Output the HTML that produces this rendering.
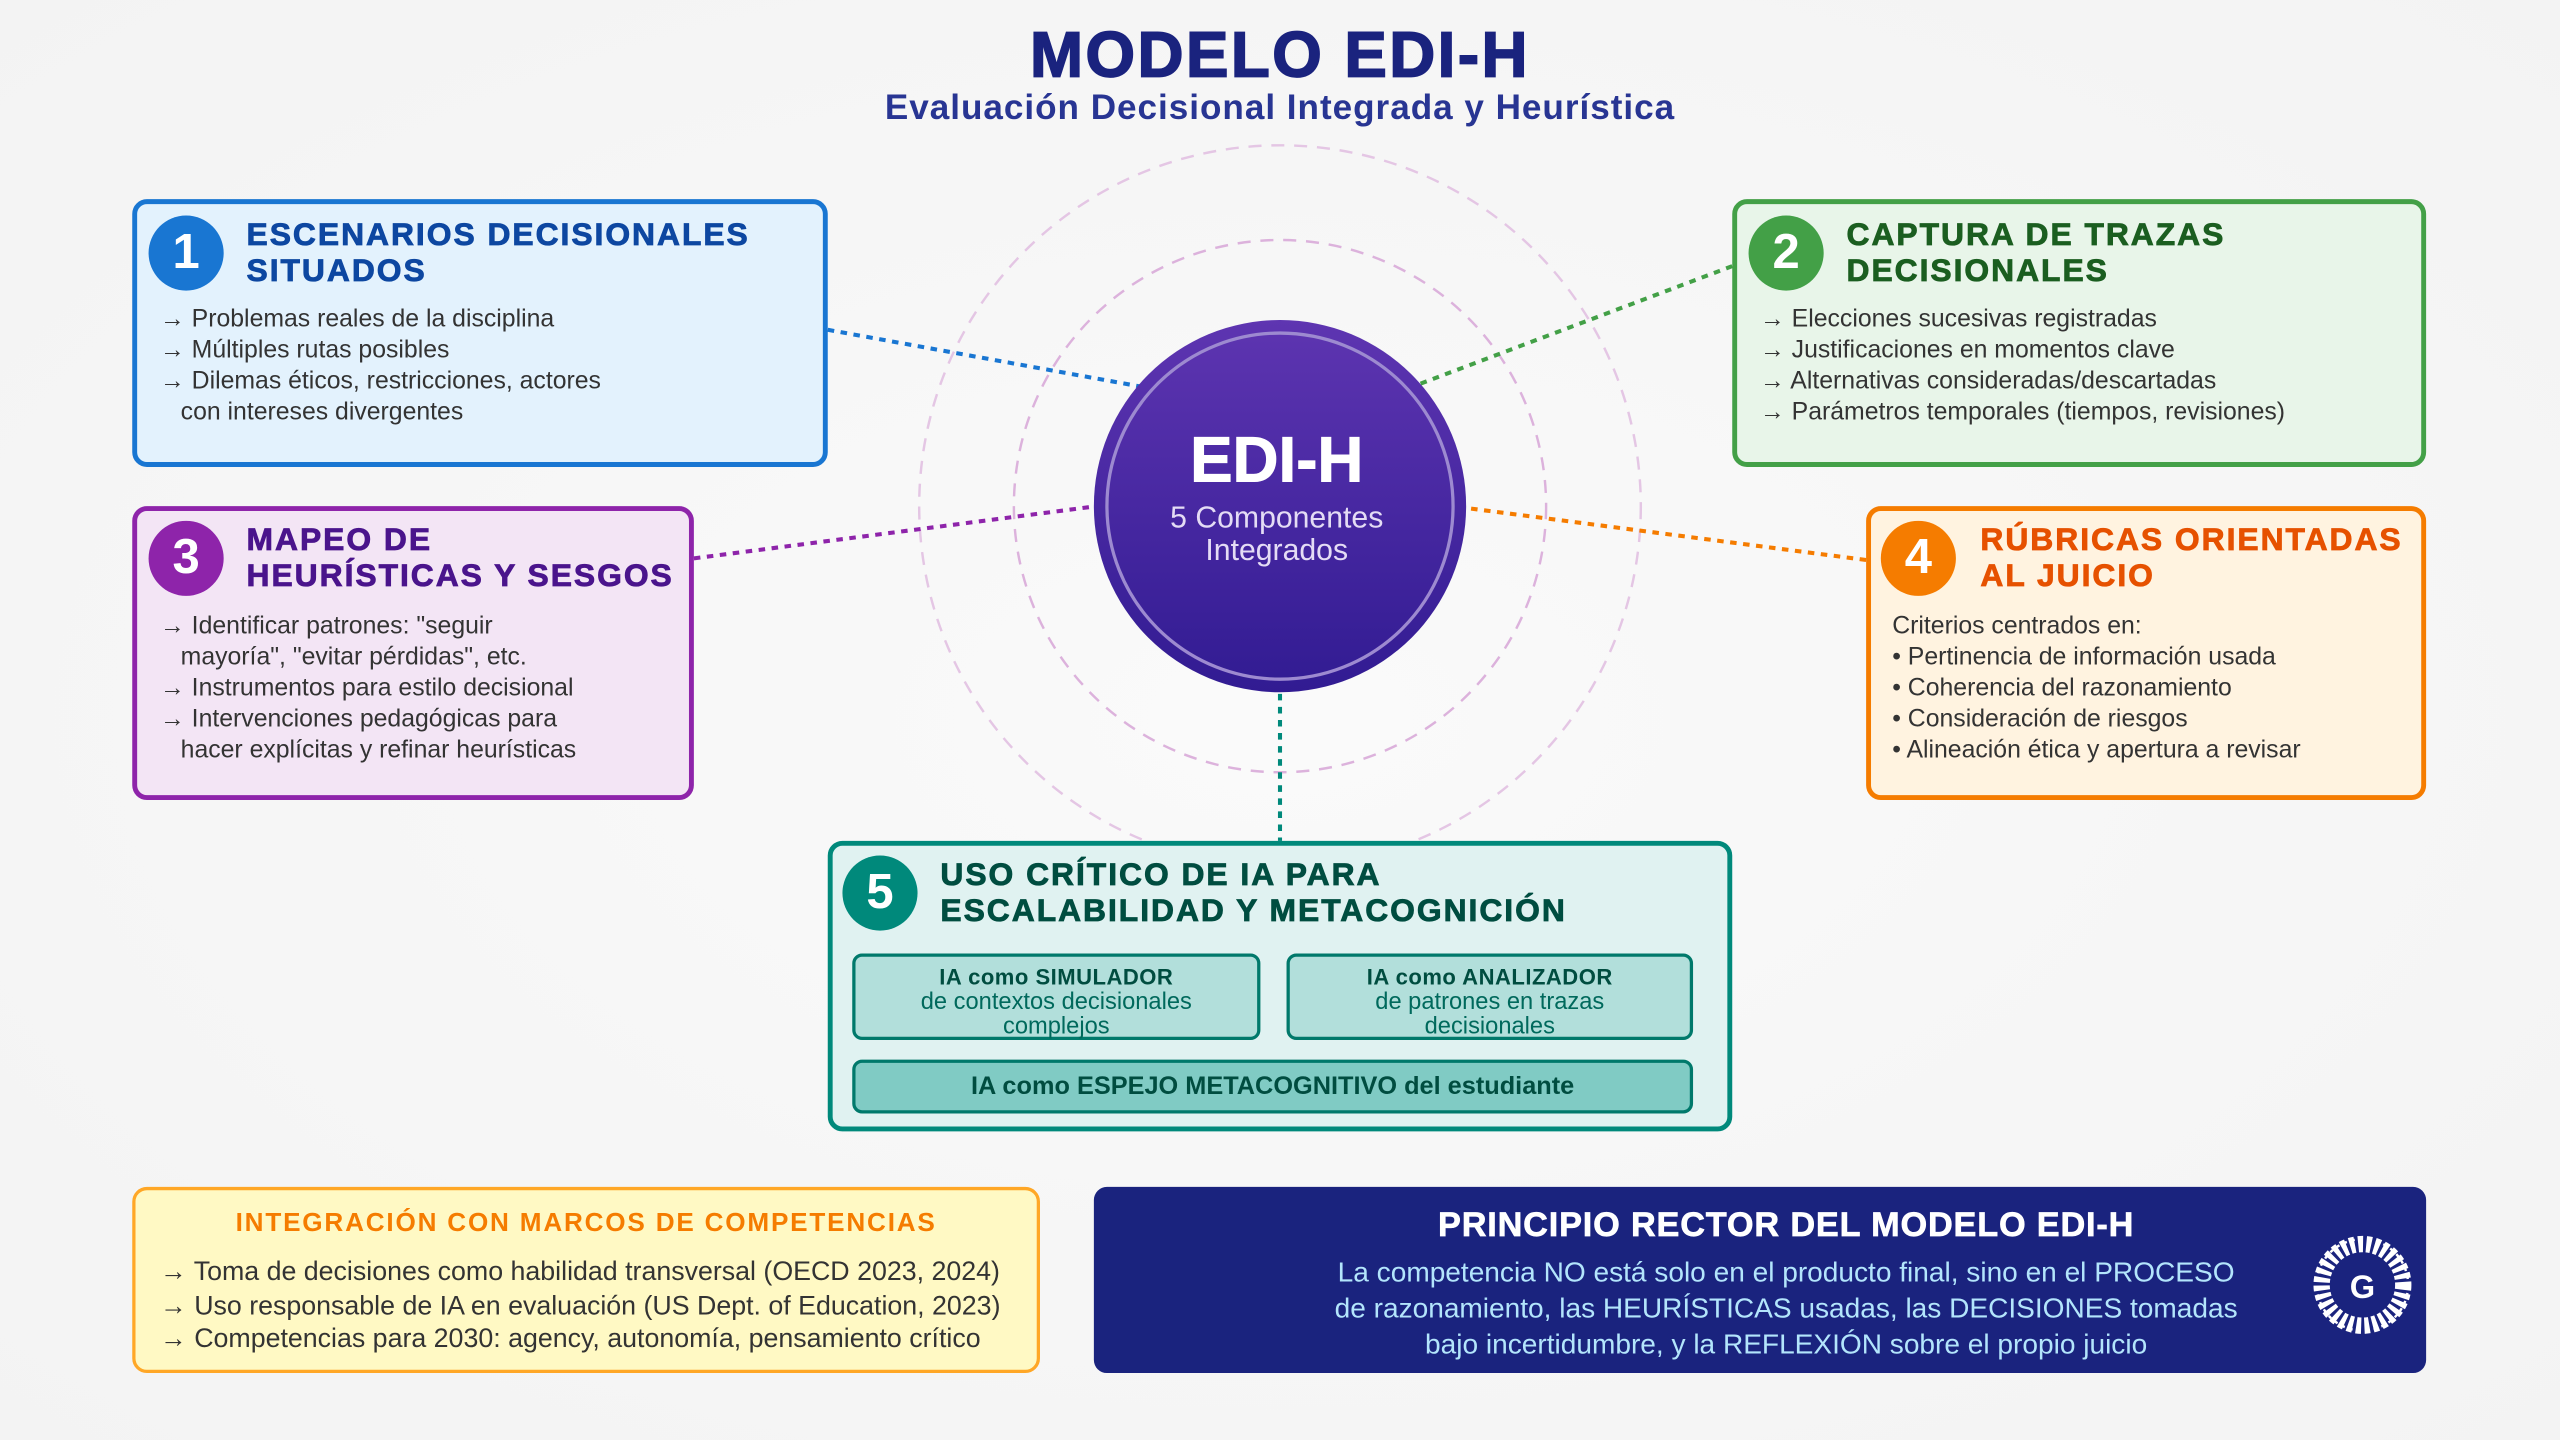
<!DOCTYPE html>
<html><head><meta charset="utf-8"><style>
html,body{margin:0;padding:0;width:2560px;height:1440px;overflow:hidden;background:#f6f6f6;}
#s{position:absolute;left:0;top:0;width:1568px;height:882px;transform:scale(1.63265);transform-origin:0 0;font-family:"Liberation Sans",sans-serif;background:radial-gradient(ellipse at center,#fafafa,#f3f3f3);}
.a{position:absolute;}
.box{position:absolute;box-sizing:border-box;border-radius:9px;border:3px solid;}
.num{position:absolute;width:46px;height:46px;border-radius:50%;color:#fff;font-weight:bold;font-size:30px;text-align:center;line-height:46px;}
.t{position:absolute;font-weight:bold;font-size:19.5px;line-height:22px;letter-spacing:1.2px;-webkit-text-stroke:0.5px;white-space:nowrap;}
.it{position:absolute;font-size:15.2px;line-height:19px;color:#333;white-space:nowrap;}
.sb{position:absolute;box-sizing:border-box;border:2px solid #00796b;border-radius:6px;background:#b2dfdb;text-align:center;color:#00695c;font-size:14.5px;line-height:15px;}
.sb b{color:#004d40;font-size:13.5px;letter-spacing:0.3px;}
</style></head><body><div id="s">
<svg class="a" style="left:0;top:0" width="1568" height="882">
<defs><linearGradient id="g" x1="0" y1="0" x2="0" y2="1"><stop offset="0" stop-color="#5e35b1"/><stop offset="1" stop-color="#311b92"/></linearGradient></defs>
<circle cx="784" cy="310" r="221" fill="none" stroke="#e4c6e4" stroke-width="1.5" stroke-dasharray="8,6"/>
<circle cx="784" cy="310" r="163" fill="none" stroke="#dcb2dc" stroke-width="1.5" stroke-dasharray="8,6"/>
<g stroke-width="2.5" stroke-dasharray="4,4" fill="none">
<line x1="507" y1="202" x2="700" y2="237" stroke="#1976d2"/>
<line x1="1061" y1="163" x2="870" y2="235" stroke="#43a047"/>
<line x1="425" y1="342" x2="672" y2="310" stroke="#8e24aa"/>
<line x1="1143" y1="343" x2="897" y2="311" stroke="#f57c00"/>
<line x1="784" y1="425" x2="784" y2="515" stroke="#00897b"/>
</g>
<circle cx="784" cy="310" r="114" fill="url(#g)"/>
<circle cx="784" cy="310" r="106" fill="none" stroke="#9d8ad0" stroke-width="2"/>
<text x="782" y="295" text-anchor="middle" fill="#fff" font-size="39" font-weight="bold" font-family="Liberation Sans" stroke="#fff" stroke-width="0.6">EDI-H</text>
<text x="782" y="323" text-anchor="middle" fill="#e4dcf5" font-size="18.5" font-family="Liberation Sans">5 Componentes</text>
<text x="782" y="343" text-anchor="middle" fill="#e4dcf5" font-size="18.5" font-family="Liberation Sans">Integrados</text>
</svg>
<div class="a" style="left:0;width:1568px;top:13px;text-align:center;font-size:39px;font-weight:bold;color:#1a237e;letter-spacing:1.5px;-webkit-text-stroke:1px #1a237e;">MODELO EDI-H</div>
<div class="a" style="left:0;width:1568px;top:54px;text-align:center;font-size:21.5px;font-weight:bold;color:#283593;letter-spacing:0.6px;">Evaluación Decisional Integrada y Heurística</div>

<div class="box" style="left:81px;top:122px;width:426px;height:164px;border-color:#1976d2;background:#e3f2fd"></div>
<div class="num" style="left:91px;top:132px;background:#1976d2">1</div>
<div class="t" style="left:151px;top:133px;color:#0d47a1">ESCENARIOS DECISIONALES<br>SITUADOS</div>
<div class="it" style="left:98px;top:186px">→ Problemas reales de la disciplina<br>→ Múltiples rutas posibles<br>→ Dilemas éticos, restricciones, actores<br>&nbsp;&nbsp;&nbsp;con intereses divergentes</div>

<div class="box" style="left:1061px;top:122px;width:425px;height:164px;border-color:#43a047;background:#e8f5e9"></div>
<div class="num" style="left:1071px;top:132px;background:#43a047">2</div>
<div class="t" style="left:1131px;top:133px;color:#1b5e20">CAPTURA DE TRAZAS<br>DECISIONALES</div>
<div class="it" style="left:1078px;top:186px">→ Elecciones sucesivas registradas<br>→ Justificaciones en momentos clave<br>→ Alternativas consideradas/descartadas<br>→ Parámetros temporales (tiempos, revisiones)</div>

<div class="box" style="left:81px;top:310px;width:344px;height:180px;border-color:#8e24aa;background:#f3e5f5"></div>
<div class="num" style="left:91px;top:319px;background:#8e24aa">3</div>
<div class="t" style="left:151px;top:320px;color:#4a148c">MAPEO DE<br>HEURÍSTICAS Y SESGOS</div>
<div class="it" style="left:98px;top:374px">→ Identificar patrones: "seguir<br>&nbsp;&nbsp;&nbsp;mayoría", "evitar pérdidas", etc.<br>→ Instrumentos para estilo decisional<br>→ Intervenciones pedagógicas para<br>&nbsp;&nbsp;&nbsp;hacer explícitas y refinar heurísticas</div>

<div class="box" style="left:1143px;top:310px;width:343px;height:180px;border-color:#f57c00;background:#fff3e0"></div>
<div class="num" style="left:1152px;top:319px;background:#f57c00">4</div>
<div class="t" style="left:1213px;top:320px;color:#e65100">RÚBRICAS ORIENTADAS<br>AL JUICIO</div>
<div class="it" style="left:1159px;top:374px">Criterios centrados en:<br>• Pertinencia de información usada<br>• Coherencia del razonamiento<br>• Consideración de riesgos<br>• Alineación ética y apertura a revisar</div>

<div class="box" style="left:507px;top:515px;width:554px;height:178px;border-color:#00897b;background:#e0f2f1"></div>
<div class="num" style="left:516px;top:524px;background:#00897b">5</div>
<div class="t" style="left:576px;top:525px;color:#004d40">USO CRÍTICO DE IA PARA<br>ESCALABILIDAD Y METACOGNICIÓN</div>
<div class="sb" style="left:522px;top:584px;width:250px;height:53px;padding-top:5px"><b>IA como SIMULADOR</b><br>de contextos decisionales<br>complejos</div>
<div class="sb" style="left:788px;top:584px;width:249px;height:53px;padding-top:5px"><b>IA como ANALIZADOR</b><br>de patrones en trazas<br>decisionales</div>
<div class="sb" style="left:522px;top:649px;width:515px;height:33px;background:#80cbc4;line-height:30px;font-size:15.5px;font-weight:bold;color:#004d40">IA como ESPEJO METACOGNITIVO del estudiante</div>

<div class="box" style="left:81px;top:727px;width:556px;height:114px;border-color:#ffa726;border-width:2.5px;background:#fff9c4"></div>
<div class="a" style="left:81px;width:556px;top:741px;text-align:center;font-weight:bold;font-size:16px;color:#f57c00;letter-spacing:1.1px">INTEGRACIÓN CON MARCOS DE COMPETENCIAS</div>
<div class="it" style="left:98px;top:769px;font-size:16.4px;line-height:20.5px">→ Toma de decisiones como habilidad transversal (OECD 2023, 2024)<br>→ Uso responsable de IA en evaluación (US Dept. of Education, 2023)<br>→ Competencias para 2030: agency, autonomía, pensamiento crítico</div>

<div class="a" style="left:670px;top:727px;width:816px;height:114px;background:#1a237e;border-radius:8px"></div>
<div class="a" style="left:670px;width:848px;top:739px;text-align:center;font-weight:bold;font-size:21px;color:#fff;letter-spacing:0.5px;-webkit-text-stroke:0.4px #fff">PRINCIPIO RECTOR DEL MODELO EDI-H</div>
<div class="a" style="left:670px;width:848px;top:768px;text-align:center;font-size:17.2px;line-height:22px;color:#b3e5fc">La competencia NO está solo en el producto final, sino en el PROCESO<br>de razonamiento, las HEURÍSTICAS usadas, las DECISIONES tomadas<br>bajo incertidumbre, y la REFLEXIÓN sobre el propio juicio</div>
<svg class="a" style="left:1415px;top:755px" width="64" height="64">
<circle cx="32" cy="32" r="25" fill="none" stroke="#fff" stroke-width="10" stroke-dasharray="3,2"/>
<circle cx="32" cy="32" r="28" fill="none" stroke="#fff" stroke-width="1.5" stroke-dasharray="2,3"/>
<text x="32" y="40" text-anchor="middle" fill="#fff" font-size="20" font-weight="bold" font-family="Liberation Sans">G</text>
</svg>
</div></body></html>
